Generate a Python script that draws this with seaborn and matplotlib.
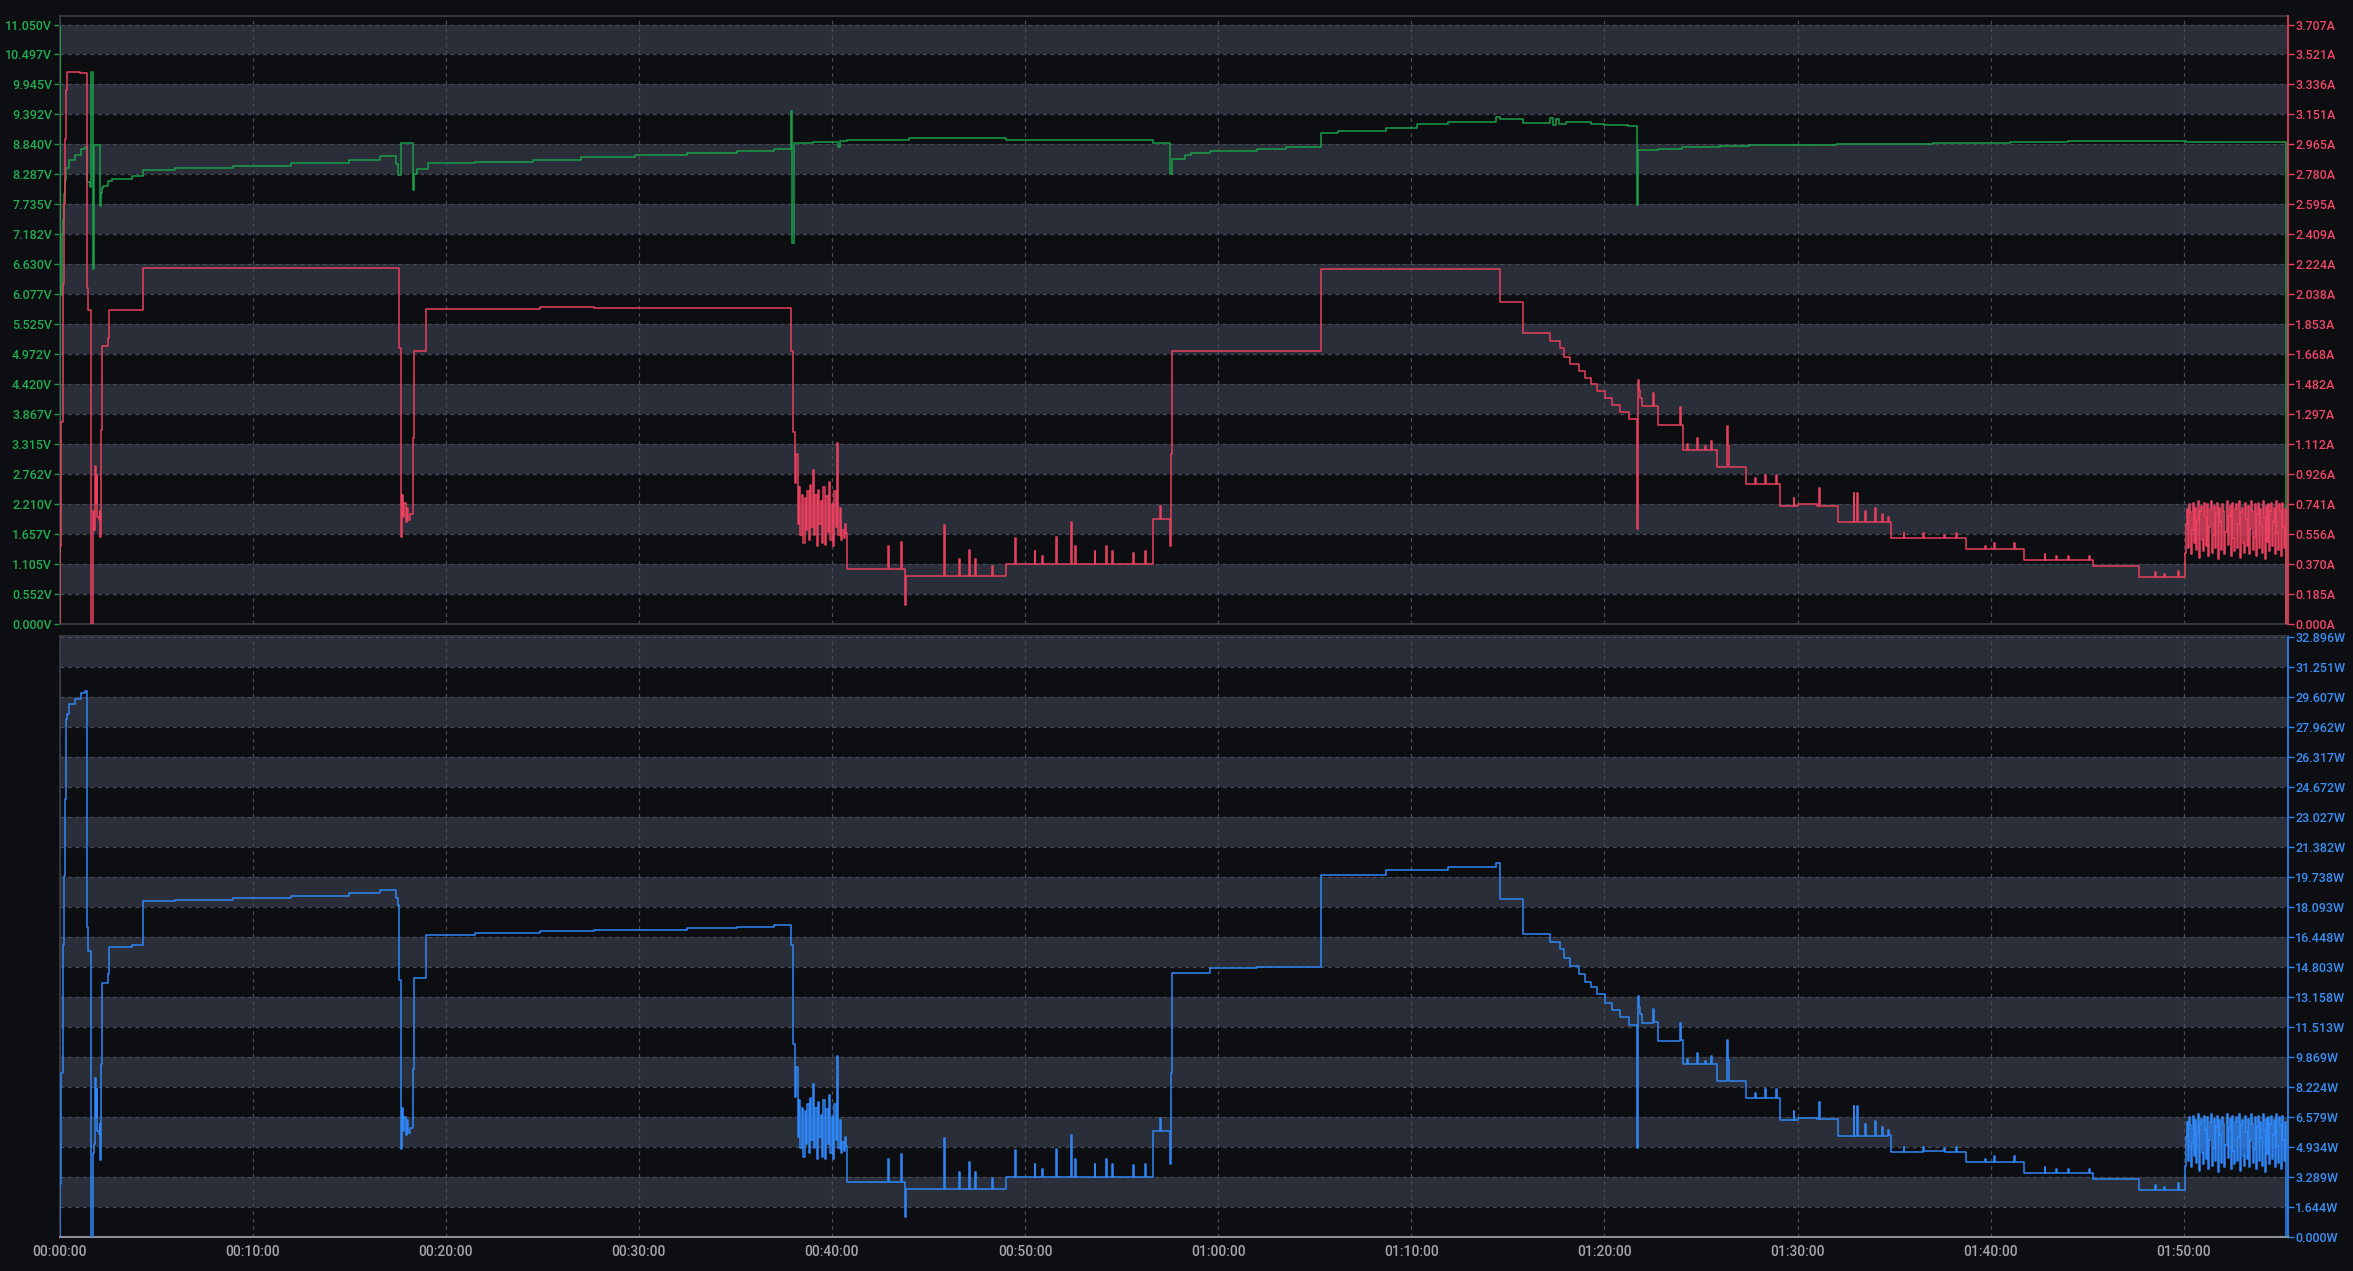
import matplotlib
matplotlib.use("Agg")
import matplotlib.pyplot as plt
import numpy as np
import pandas as pd
import seaborn as sns
from matplotlib.ticker import FixedLocator, FuncFormatter, MultipleLocator

# ---- data (time in minutes) ----
volt_t = [0.00, 0.005, 0.03, 0.13, 0.16, 0.23, 0.30, 0.34, 0.50, 0.80, 1.10, 1.34, 1.40, 1.58,
          1.63, 1.75, 1.80, 2.10, 2.15, 2.20, 2.27, 2.53, 2.70, 3.74, 4.34, 6.0, 9.0, 12.0, 15.0,
          16.6, 17.45, 17.55, 17.70, 18.30, 18.35, 18.50, 19.10, 21.5, 24.5, 27.0, 29.8, 32.5,
          35.1, 37.0, 37.90, 37.95, 38.05, 39.0, 40.3, 40.4, 40.8, 44.0, 49.0, 56.6, 57.50,
          57.60, 58.3, 58.6, 59.6, 62.0, 63.5, 65.3, 65.35, 66.2, 68.7, 70.3, 71.9, 74.4, 74.6,
          75.8, 77.2, 77.35, 77.5, 77.65, 78.0, 79.3, 80.0, 81.2, 81.70, 81.76, 82.8, 84.0,
          86.0, 87.5, 92.0, 97.0, 101.0, 104.0, 106.0, 110.1, 115.30]
volt_v = [0.0, 11.0, 6.06, 7.19, 7.45, 7.92, 8.18, 8.40, 8.55, 8.65, 8.75, 8.80, 8.15, 8.05,
          10.18, 6.54, 8.83, 7.70, 7.95, 8.03, 8.07, 8.16, 8.21, 8.26, 8.36, 8.40, 8.45, 8.50, 8.56,
          8.63, 8.47, 8.27, 8.86, 8.00, 8.30, 8.39, 8.49, 8.52, 8.56, 8.60, 8.64, 8.68,
          8.72, 8.75, 9.45, 7.02, 8.87, 8.89, 8.79, 8.91, 8.93, 8.95, 8.93, 8.87, 8.29,
          8.58, 8.65, 8.68, 8.72, 8.75, 8.80, 8.84, 9.05, 9.09, 9.15, 9.21, 9.26, 9.34, 9.30,
          9.23, 9.32, 9.20, 9.30, 9.22, 9.26, 9.21, 9.19, 9.17, 7.73, 8.73, 8.75, 8.79,
          8.81, 8.82, 8.84, 8.86, 8.88, 8.90, 8.91, 8.88, 0.0]

amp_t = [0.00, 0.03, 0.10, 0.16, 0.20, 0.23, 0.28, 0.34, 0.37, 1.06, 1.40, 1.45, 1.63, 1.75,
         1.78, 1.82, 1.85, 1.88, 1.92, 1.96, 2.02, 2.08, 2.10, 2.14, 2.19, 2.22, 2.50, 2.55,
         4.34, 17.60, 17.66, 17.70, 17.74, 17.80, 17.85, 17.92, 17.98, 18.05, 18.15, 18.30,
         18.36, 19.00, 24.9, 27.7, 37.90, 37.97,
         40.80, 43.78, 43.82, 45.80, 45.85, 47.10, 47.15, 49.00, 49.50, 49.55, 51.60, 51.65,
         52.40, 52.45, 54.2, 54.25, 56.60, 57.00, 57.05, 57.50, 57.55, 57.60, 65.35, 74.60,
         75.80, 77.20, 77.70, 77.90, 78.20, 78.70, 79.00, 79.30, 79.60, 80.05, 80.40, 80.80,
         81.25, 81.70, 81.74, 81.76, 81.80, 81.85, 81.95, 82.50, 82.55, 82.80, 83.90, 83.95,
         84.06, 84.80, 84.85, 85.50, 85.55, 85.84, 86.35, 86.40, 86.45, 87.35, 88.30, 88.35,
         88.90, 88.95, 89.10, 90.00, 91.00, 91.10, 91.15, 92.10, 92.90, 92.95, 93.10, 93.15,
         94.70, 94.75, 94.85, 96.5, 96.55, 98.70, 100.2, 100.25, 101.75, 104.0, 104.05,
         105.30, 107.70, 115.30]
amp_v = [0.00, 0.48, 1.25, 1.59, 2.10, 2.60, 3.00, 3.30, 3.415, 3.41, 2.08, 1.94, 0.00, 0.70,
         0.58, 0.85, 0.98, 0.75, 0.92, 0.66, 0.64, 0.70, 0.54, 1.20, 1.64, 1.72, 1.77, 1.94,
         2.20, 1.705, 1.55, 0.54, 0.80, 0.66, 0.75, 0.63, 0.72, 0.64, 0.68, 1.15,
         1.69, 1.95, 1.96, 1.955, 1.69, 1.19,
         0.34, 0.12, 0.295, 0.61, 0.295, 0.46, 0.295, 0.37, 0.53, 0.37, 0.54, 0.37,
         0.63, 0.37, 0.48, 0.37, 0.65, 0.73, 0.65, 0.48, 1.05, 1.69, 2.195, 1.993,
         1.797, 1.75, 1.705, 1.65, 1.607, 1.563, 1.52, 1.486, 1.443, 1.40, 1.355, 1.313,
         1.265, 0.587, 1.30, 1.51, 1.45, 1.40, 1.347, 1.43, 1.347, 1.231, 1.34, 1.231,
         1.079, 1.15, 1.079, 1.13, 1.079, 0.97, 1.226, 1.10, 0.97, 0.865, 0.92, 0.865,
         0.92, 0.865, 0.729, 0.74, 0.729, 0.84, 0.729, 0.628, 0.81, 0.628, 0.81, 0.628,
         0.66, 0.628, 0.529, 0.56, 0.529, 0.461, 0.50, 0.461, 0.393, 0.42, 0.393,
         0.36, 0.292, 0.0]

watt_t = [0.00, 0.03, 0.10, 0.16, 0.20, 0.23, 0.28, 0.34, 0.37, 0.50, 0.80, 1.10, 1.34, 1.40,
          1.45, 1.63, 1.75, 1.78, 1.82, 1.85, 1.88, 1.92, 1.96, 2.02, 2.08, 2.10, 2.14, 2.19,
          2.22, 2.50, 2.55, 3.74, 4.34, 6.0, 9.0, 12.0, 15.0, 16.6, 17.45, 17.55, 17.60, 17.66,
          17.70, 17.74, 17.80, 17.85, 17.92, 17.98, 18.05, 18.15, 18.30, 18.36, 19.00, 21.5,
          24.9, 27.7, 29.8, 32.5, 35.1, 37.0, 37.90, 37.97,
          40.80, 43.78, 43.82, 45.80, 45.85, 47.10, 47.15, 49.00, 49.50, 49.55, 51.60, 51.65,
          52.40, 52.45, 54.2, 54.25, 56.60, 57.00, 57.05, 57.50, 57.55, 57.60, 59.6, 62.0,
          65.3, 65.35, 68.7, 71.9, 74.4, 74.60, 75.80, 77.20, 77.70, 77.90, 78.20, 78.70,
          79.00, 79.30, 79.60, 80.05, 80.40, 80.80, 81.25, 81.70, 81.74, 81.76, 81.80, 81.85,
          81.95, 82.50, 82.55, 82.80, 83.90, 83.95, 84.06, 84.80, 84.85, 85.50, 85.55, 85.84,
          86.35, 86.40, 86.45, 87.35, 88.30, 88.35, 88.90, 88.95, 89.10, 90.00, 91.00, 91.10,
          91.15, 92.10, 92.90, 92.95, 93.10, 93.15, 94.70, 94.75, 94.85, 96.5, 96.55, 98.70,
          100.2, 100.25, 101.75, 104.0, 104.05, 105.30, 107.70, 115.30]
watt_v = [0.0, 2.9, 9.0, 11.8, 16.0, 19.8, 24.0, 28.4, 28.7, 29.2, 29.5, 29.8, 29.95, 17.0,
          15.7, 0.0, 4.6, 5.1, 7.5, 8.7, 6.6, 8.1, 5.8, 5.65, 6.2, 4.2, 9.5, 13.2,
          13.9, 14.4, 15.9, 16.0, 18.4, 18.5, 18.6, 18.7, 18.85, 19.0, 18.6, 18.2, 14.1, 13.3,
          4.8, 7.1, 5.8, 6.6, 5.6, 6.4, 5.7, 6.0, 9.2, 14.2, 16.55, 16.65,
          16.8, 16.85, 16.85, 16.95, 17.0, 17.1, 16.0, 10.6,
          3.04, 1.07, 2.63, 5.45, 2.64, 4.1, 2.64, 3.3, 4.75, 3.3, 4.8, 3.3,
          5.6, 3.3, 4.3, 3.3, 5.8, 6.5, 5.8, 4.0, 9.0, 14.5, 14.75, 14.8,
          14.95, 19.85, 20.1, 20.3, 20.5, 18.55, 16.6, 16.2, 15.8, 15.3, 14.85, 14.4,
          14.0, 13.7, 13.3, 12.85, 12.45, 12.05, 11.6, 4.9, 11.35, 13.2, 12.6, 12.2,
          11.75, 12.5, 11.78, 10.77, 11.75, 10.8, 9.48, 10.1, 9.49, 9.9, 9.5, 8.55,
          10.8, 9.7, 8.55, 7.63, 8.1, 7.63, 8.1, 7.64, 6.44, 6.54, 6.45, 7.42,
          6.45, 5.55, 7.16, 5.56, 7.16, 5.56, 5.85, 5.57, 4.68, 4.96, 4.69, 4.09,
          4.44, 4.09, 3.49, 3.73, 3.5, 3.2, 2.6, 0.0]

# short one-sample spikes on the current/power plateaus: (time, peak, back-to level)
spike_t = [42.9, 43.6, 46.6, 47.4, 48.3, 50.5, 50.9, 52.6, 53.6, 54.5, 55.6, 56.2,
           84.3, 85.2, 87.8, 89.8, 93.5, 94.0, 94.4, 95.5, 97.6, 98.2, 99.7, 101.2,
           102.8, 103.4, 105.1, 108.5, 109.0, 109.7]
spike_amp = [0.48, 0.51, 0.40, 0.40, 0.36, 0.45, 0.42, 0.48, 0.45, 0.45, 0.44, 0.45,
             1.11, 1.10, 0.90, 0.78, 0.70, 0.72, 0.68, 0.56, 0.55, 0.56, 0.48, 0.50,
             0.43, 0.42, 0.42, 0.32, 0.31, 0.33]
spike_amp_base = [0.34, 0.34, 0.295, 0.295, 0.295, 0.37, 0.37, 0.37, 0.37, 0.37, 0.37, 0.37,
                  1.079, 1.079, 0.865, 0.729, 0.628, 0.628, 0.628, 0.529, 0.529, 0.529, 0.461,
                  0.461, 0.393, 0.393, 0.393, 0.292, 0.292, 0.292]
spike_watt = [4.29, 4.55, 3.57, 3.57, 3.21, 4.02, 3.75, 4.29, 4.02, 4.02, 3.93, 4.02,
              9.75, 9.67, 7.92, 6.90, 6.19, 6.36, 6.01, 4.96, 4.87, 4.96, 4.26, 4.44,
              3.82, 3.73, 3.73, 2.85, 2.76, 2.94]
spike_watt_base = [3.04, 3.04, 2.63, 2.63, 2.63, 3.3, 3.3, 3.3, 3.3, 3.3, 3.3, 3.3,
                   9.48, 9.48, 7.63, 6.44, 5.55, 5.55, 5.55, 4.68, 4.68, 4.68, 4.09, 4.09,
                   3.49, 3.49, 3.49, 2.6, 2.6, 2.6]

# noisy stretches, sampled at a fixed rate
burst1_span = (38.02, 40.75)
burst1_amp = [1.19, 0.87, 1.05, 0.62, 0.85, 0.55, 0.80, 0.50, 0.78, 0.58,
              0.82, 0.52, 0.86, 0.60, 0.95, 0.55, 0.80, 0.48, 0.83, 0.62,
              0.76, 0.50, 0.85, 0.49, 0.79, 0.57, 0.88, 0.52, 0.74, 0.48,
              0.82, 0.60, 1.12, 0.55, 0.72, 0.52, 0.58, 0.53, 0.62, 0.56]
burst1_watt = [10.6, 7.7, 9.3, 5.5, 7.5, 4.9, 7.1, 4.4, 6.9, 5.1,
               7.3, 4.6, 7.6, 5.3, 8.4, 4.9, 7.1, 4.3, 7.4, 5.5,
               6.7, 4.4, 7.5, 4.3, 7.0, 5.1, 7.8, 4.6, 6.6, 4.3,
               7.3, 5.3, 9.9, 4.9, 6.4, 4.6, 5.2, 4.7, 5.5, 5.0]

burst2_span = (110.07, 115.25)
burst2_amp = [0.44, 0.62, 0.71, 0.47, 0.74, 0.69, 0.43, 0.58, 0.75, 0.50,
              0.72, 0.46, 0.64, 0.76, 0.41, 0.70, 0.73, 0.52, 0.45, 0.75,
              0.66, 0.48, 0.74, 0.42, 0.60, 0.71, 0.76, 0.44, 0.55, 0.73,
              0.47, 0.68, 0.75, 0.40, 0.72, 0.63, 0.46, 0.74, 0.70, 0.43,
              0.57, 0.76, 0.49, 0.67, 0.73, 0.42, 0.75, 0.53, 0.45, 0.71,
              0.74, 0.47, 0.62, 0.76, 0.41, 0.69, 0.72, 0.50, 0.44, 0.75,
              0.65, 0.48, 0.73, 0.43, 0.59, 0.76, 0.70, 0.46, 0.54, 0.74,
              0.42, 0.68, 0.75, 0.47, 0.71, 0.61, 0.44, 0.76, 0.66, 0.40,
              0.73, 0.51, 0.74, 0.45, 0.70, 0.75, 0.48, 0.63, 0.72, 0.43,
              0.76, 0.56, 0.46, 0.74, 0.69, 0.42, 0.75, 0.60, 0.47, 0.71]
burst2_watt = [3.91, 5.51, 6.30, 4.17, 6.57, 6.13, 3.82, 5.15, 6.66, 4.44,
               6.39, 4.08, 5.68, 6.75, 3.64, 6.22, 6.48, 4.62, 4.00, 6.66,
               5.86, 4.26, 6.57, 3.73, 5.33, 6.30, 6.75, 3.91, 4.88, 6.48,
               4.17, 6.04, 6.66, 3.55, 6.39, 5.59, 4.08, 6.57, 6.22, 3.82,
               5.06, 6.75, 4.35, 5.95, 6.48, 3.73, 6.66, 4.71, 4.00, 6.30,
               6.57, 4.17, 5.51, 6.75, 3.64, 6.13, 6.39, 4.44, 3.91, 6.66,
               5.77, 4.26, 6.48, 3.82, 5.24, 6.75, 6.22, 4.08, 4.80, 6.57,
               3.73, 6.04, 6.66, 4.17, 6.30, 5.42, 3.91, 6.75, 5.86, 3.55,
               6.48, 4.53, 6.57, 4.00, 6.22, 6.66, 4.26, 5.59, 6.39, 3.82,
               6.75, 4.97, 4.08, 6.57, 6.13, 3.73, 6.66, 5.33, 4.17, 6.30]

VOLT_MAX, AMP_MAX, WATT_MAX = 11.05, 3.707, 32.896
T_MAX = 115.4
volt_labels = ["0.000V", "0.552V", "1.105V", "1.657V", "2.210V", "2.762V", "3.315V",
               "3.867V", "4.420V", "4.972V", "5.525V", "6.077V", "6.630V", "7.182V",
               "7.735V", "8.287V", "8.840V", "9.392V", "9.945V", "10.497V", "11.050V"]
amp_labels = ["0.000A", "0.185A", "0.370A", "0.556A", "0.741A", "0.926A", "1.112A",
              "1.297A", "1.482A", "1.668A", "1.853A", "2.038A", "2.224A", "2.409A",
              "2.595A", "2.780A", "2.965A", "3.151A", "3.336A", "3.521A", "3.707A"]
watt_labels = ["0.000W", "1.644W", "3.289W", "4.934W", "6.579W", "8.224W", "9.869W",
               "11.513W", "13.158W", "14.803W", "16.448W", "18.093W", "19.738W", "21.382W",
               "23.027W", "24.672W", "26.317W", "27.962W", "29.607W", "31.251W", "32.896W"]


def build(t, v, bursts=(), spikes=None):
    frames = [pd.DataFrame({"t": t, "v": v})]
    for (t0, t1), vals in bursts:
        frames.append(pd.DataFrame({"t": np.linspace(t0, t1, len(vals)), "v": vals}))
    if spikes is not None:
        st, peak, base = spikes
        st = np.asarray(st)
        frames.append(pd.DataFrame({"t": st, "v": peak}))
        frames.append(pd.DataFrame({"t": st + 0.04, "v": base}))
    return pd.concat(frames).sort_values("t", kind="stable").reset_index(drop=True)


volts = build(volt_t, volt_v)
amps = build(amp_t, amp_v, [(burst1_span, burst1_amp), (burst2_span, burst2_amp)],
             (spike_t, spike_amp, spike_amp_base))
watts = build(watt_t, watt_v, [(burst1_span, burst1_watt), (burst2_span, burst2_watt)],
              (spike_t, spike_watt, spike_watt_base))

# ---- style ----
BG = "#0d0e12"
BAND = "#2a2e38"
GRID = "#474b56"
SPINE = "#3a3d46"
GREEN = "#1a9e48"
RED = "#e8405e"
BLUE = "#2f86f6"
GREEN_TXT = "#22ad52"
RED_TXT = "#ee4766"
BLUE_TXT = "#3a8ff7"
XTXT = "#a2a4aa"
FS_Y = 9
FS_X = 10

sns.set_theme(style="dark", rc={"axes.facecolor": BG, "figure.facecolor": BG})
plt.rcParams["font.family"] = ["Roboto", "DejaVu Sans"]
plt.rcParams["font.weight"] = "medium"

fig = plt.figure(figsize=(23.53, 12.71), dpi=100)
ax = fig.add_axes([0.02529, 0.50905, 0.94709, 0.47836])
ax2 = ax.twinx()
ax3 = fig.add_axes([0.02529, 0.02675, 0.94709, 0.47286])

head_top = 608 / 599.5
head_bot = 601 / 600


def stripes(axis, vmax):
    step = vmax / 20
    for k in range(1, 20, 2):
        axis.axhspan(k * step, (k + 1) * step, color=BAND, lw=0, zorder=0.2)


def dress(axis):
    axis.set_facecolor(BG)
    axis.set_xlim(0, T_MAX)
    axis.xaxis.set_major_locator(MultipleLocator(10))
    axis.grid(True, which="major", axis="both", color=GRID, linestyle=(0, (3, 3)),
              linewidth=0.9, zorder=0.5)
    axis.set_axisbelow(True)
    axis.set_xlabel("")
    axis.set_ylabel("")


line_kw = dict(linewidth=1.1, drawstyle="steps-post", estimator=None, sort=False, legend=False)

# top panel: voltage (left) and current (right)
sns.lineplot(data=volts, x="t", y="v", ax=ax, color=GREEN, zorder=3, **line_kw)
sns.lineplot(data=amps, x="t", y="v", ax=ax2, color=RED, zorder=3, **line_kw)
stripes(ax, VOLT_MAX)
dress(ax)
ax.set_ylim(0, VOLT_MAX * head_top)
ax2.set_ylim(0, AMP_MAX * head_top)
ax2.set_xlim(0, T_MAX)
ax2.set_ylabel("")
ax2.grid(False)
ax.yaxis.set_major_locator(FixedLocator(np.linspace(0, VOLT_MAX, 21)))
ax.set_yticklabels(volt_labels)
ax2.yaxis.set_major_locator(FixedLocator(np.linspace(0, AMP_MAX, 21)))
ax2.set_yticklabels(amp_labels)
ax.tick_params(axis="x", length=0, labelbottom=False)
ax.tick_params(axis="y", colors=GREEN, labelcolor=GREEN_TXT, length=4.3, width=1,
               labelsize=FS_Y, pad=1)
ax2.tick_params(axis="y", colors=RED, labelcolor=RED_TXT, length=4.3, width=1,
                labelsize=FS_Y, pad=1)
for s in ["left", "top", "bottom"]:
    ax.spines[s].set_color(SPINE)
    ax2.spines[s].set_visible(False)
ax.spines["right"].set_visible(False)
ax2.spines["right"].set_color(RED)

# bottom panel: power (right)
sns.lineplot(data=watts, x="t", y="v", ax=ax3, color=BLUE, zorder=3, **line_kw)
stripes(ax3, WATT_MAX)
dress(ax3)
ax3.set_ylim(0, WATT_MAX * head_bot)
ax3.yaxis.tick_right()
ax3.yaxis.set_major_locator(FixedLocator(np.linspace(0, WATT_MAX, 21)))
ax3.set_yticklabels(watt_labels)
ax3.tick_params(axis="y", colors=BLUE, labelcolor=BLUE_TXT, length=4.3, width=1,
                labelsize=FS_Y, pad=1)
ax3.tick_params(axis="x", colors="#8e9096", labelcolor=XTXT, length=3.5, width=1,
                labelsize=FS_X, pad=2.5)
ax3.xaxis.set_major_formatter(FuncFormatter(lambda m, _: f"{int(m // 60):02d}:{int(m % 60):02d}:00"))
ax3.spines["left"].set_color(SPINE)
ax3.spines["top"].set_color(SPINE)
ax3.spines["right"].set_color(BLUE)
ax3.spines["bottom"].set_color("#8e9096")
ax3.spines["bottom"].set_linewidth(1.5)

fig.savefig("out.png", dpi=100, facecolor=BG)
